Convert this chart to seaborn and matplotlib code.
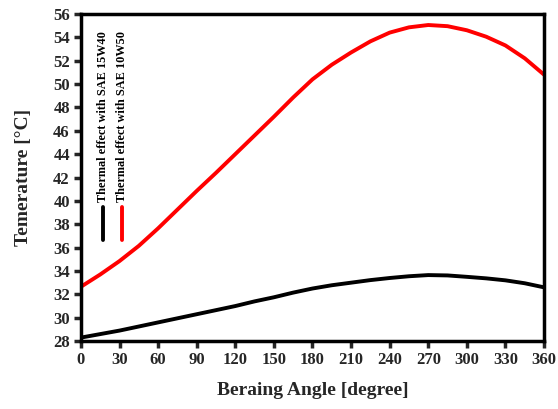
import matplotlib
matplotlib.use("Agg")
import matplotlib.pyplot as plt
import seaborn as sns
import pandas as pd
from matplotlib.lines import Line2D

angles = [0, 15, 30, 45, 60, 75, 90, 105, 120, 135, 150, 165, 180, 195, 210, 225,
          240, 255, 270, 285, 300, 315, 330, 345, 360]
temp_15w40 = [28.3, 28.6, 28.9, 29.25, 29.6, 29.95, 30.3, 30.65, 31.0, 31.4, 31.75, 32.15,
              32.5, 32.78, 33.0, 33.22, 33.4, 33.55, 33.65, 33.62, 33.5, 33.37, 33.2, 32.95, 32.6]
temp_10w50 = [32.65, 33.7, 34.85, 36.15, 37.65, 39.25, 40.85, 42.4, 44.0, 45.6, 47.2, 48.85,
              50.4, 51.65, 52.7, 53.65, 54.4, 54.85, 55.05, 54.95, 54.6, 54.05, 53.3, 52.2, 50.8]
series_names = ["Thermal effect with SAE 15W40", "Thermal effect with SAE 10W50"]
series_colors = ["#000000", "#ff0000"]
x_ticks = list(range(0, 361, 30))
y_ticks = list(range(28, 57, 2))

sns.set_theme(style="white")
plt.rcParams["font.family"] = ["Liberation Serif", "DejaVu Serif"]

df = pd.DataFrame({
    "angle": angles * 2,
    "temp": temp_15w40 + temp_10w50,
    "series": [series_names[0]] * len(angles) + [series_names[1]] * len(angles),
})

fig = plt.figure(figsize=(5.58, 4.09), dpi=100)
ax = fig.add_axes([0.145, 0.166, 0.830, 0.800])
sns.lineplot(data=df, x="angle", y="temp", hue="series", palette=series_colors,
             linewidth=2.8, ax=ax, legend=False)

ax.set_xlim(0, 360)
ax.set_ylim(28, 56)
ax.set_xticks(x_ticks)
ax.set_yticks(y_ticks)
ax.tick_params(axis="both", direction="out", length=5, width=2.5, labelsize=12,
               bottom=True, left=True, top=False, right=False, pad=3)
for lab in ax.get_xticklabels() + ax.get_yticklabels():
    lab.set_fontweight("bold")
for s in ax.spines.values():
    s.set_linewidth(2.5)
    s.set_color("black")

ax.set_xlabel("Beraing Angle [degree]", fontsize=14, fontweight="bold", labelpad=10)
ax.set_ylabel("Temerature [°C]", fontsize=14, fontweight="bold", labelpad=15)

# vertical legend
for xf, name, col in zip([0.047, 0.088], series_names, series_colors):
    ax.add_line(Line2D([xf, xf], [0.309, 0.41], transform=ax.transAxes,
                       color=col, linewidth=2.8, solid_capstyle="round"))
    ax.text(xf, 0.425, name, transform=ax.transAxes, rotation=90,
            ha="center", va="bottom", fontsize=8.8, fontweight="bold", color="black")

fig.savefig("out.png", dpi=100)
